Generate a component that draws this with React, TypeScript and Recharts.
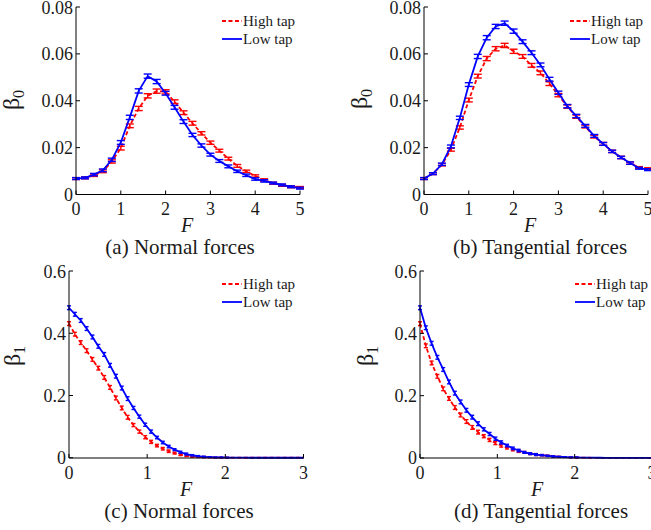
import React from "react";
import { LineChart, Line, XAxis, YAxis, ErrorBar } from "recharts";

// ---- force grid (top row: beta_0, bottom row: beta_1) ----
const F_TOP = [0, 0.2, 0.4, 0.6, 0.8, 1.0, 1.2, 1.4, 1.6, 1.8, 2.0, 2.2, 2.4, 2.6, 2.8, 3.0, 3.2, 3.4, 3.6, 3.8, 4.0, 4.2, 4.4, 4.6, 4.8, 5.0];
const F_BOTTOM = [0, 0.075, 0.15, 0.225, 0.3, 0.375, 0.45, 0.525, 0.6, 0.675, 0.75, 0.825, 0.9, 0.975, 1.05, 1.125, 1.2, 1.275, 1.35, 1.425, 1.5, 1.575, 1.65, 1.725, 1.8, 1.875, 1.95, 2.025, 2.1, 2.175, 2.25, 2.325, 2.4, 2.475, 2.55, 2.625, 2.7, 2.775, 2.85, 2.925, 3.0];

// (a) normal forces, beta_0
const A_HIGH = [0.0068, 0.0071, 0.0082, 0.0099, 0.0141, 0.0198, 0.0293, 0.0367, 0.0421, 0.0441, 0.0438, 0.0396, 0.0349, 0.0304, 0.0261, 0.0221, 0.0187, 0.0153, 0.0122, 0.0099, 0.0079, 0.0062, 0.0048, 0.0039, 0.0033, 0.003];
const A_HIGH_ERR = [0.0004, 0.0004, 0.0005, 0.0006, 0.0007, 0.0008, 0.0008, 0.0009, 0.0009, 0.0009, 0.0009, 0.0008, 0.0008, 0.0008, 0.0007, 0.0007, 0.0006, 0.0006, 0.0006, 0.0005, 0.0005, 0.0005, 0.0004, 0.0004, 0.0004, 0.0004];
const A_LOW = [0.0068, 0.0071, 0.0085, 0.0103, 0.0148, 0.0222, 0.0329, 0.0442, 0.0505, 0.0482, 0.0432, 0.0372, 0.0311, 0.0254, 0.0209, 0.017, 0.0143, 0.012, 0.0099, 0.0082, 0.0066, 0.0058, 0.0049, 0.0041, 0.0033, 0.0027];
const A_LOW_ERR = [0.0004, 0.0004, 0.0005, 0.0006, 0.0007, 0.0008, 0.0009, 0.0009, 0.0009, 0.0009, 0.0008, 0.0008, 0.0008, 0.0007, 0.0007, 0.0006, 0.0006, 0.0006, 0.0005, 0.0005, 0.0005, 0.0005, 0.0004, 0.0004, 0.0004, 0.0004];

// (b) tangential forces, beta_0
const B_HIGH = [0.0068, 0.0089, 0.0127, 0.0191, 0.0286, 0.0403, 0.0505, 0.058, 0.0622, 0.0636, 0.0611, 0.0589, 0.0551, 0.0519, 0.0473, 0.0424, 0.0375, 0.0332, 0.029, 0.0247, 0.0216, 0.0184, 0.0158, 0.0134, 0.0115, 0.011];
const B_HIGH_ERR = [0.0004, 0.0004, 0.0005, 0.0006, 0.0007, 0.0008, 0.0008, 0.0009, 0.0009, 0.0009, 0.0009, 0.0008, 0.0008, 0.0008, 0.0008, 0.0007, 0.0007, 0.0007, 0.0006, 0.0006, 0.0006, 0.0005, 0.0005, 0.0005, 0.0004, 0.0004];
const B_LOW = [0.0068, 0.0089, 0.0129, 0.0205, 0.0327, 0.0469, 0.0589, 0.0669, 0.0717, 0.0731, 0.0697, 0.0652, 0.0605, 0.0553, 0.0492, 0.0434, 0.0377, 0.0335, 0.0293, 0.025, 0.0216, 0.0184, 0.0158, 0.0134, 0.0112, 0.0106];
const B_LOW_ERR = [0.0004, 0.0004, 0.0005, 0.0006, 0.0007, 0.0008, 0.0009, 0.0009, 0.0009, 0.0009, 0.0009, 0.0008, 0.0008, 0.0008, 0.0008, 0.0007, 0.0007, 0.0007, 0.0006, 0.0006, 0.0006, 0.0005, 0.0005, 0.0005, 0.0004, 0.0004];

// (c) normal forces, beta_1
const C_HIGH = [0.431, 0.397, 0.37, 0.344, 0.316, 0.288, 0.258, 0.226, 0.192, 0.16, 0.13, 0.105, 0.084, 0.066, 0.051, 0.039, 0.029, 0.021, 0.015, 0.01, 0.007, 0.004, 0.003, 0.002, 0.001, 0.0006, 0.0003, 0.0002, 0.0001, 0.0001, 0, 0, 0, 0, 0, 0, 0, 0, 0, 0, 0];
const C_LOW = [0.482, 0.461, 0.441, 0.415, 0.388, 0.358, 0.332, 0.297, 0.262, 0.224, 0.19, 0.16, 0.132, 0.106, 0.084, 0.065, 0.049, 0.036, 0.026, 0.018, 0.012, 0.008, 0.005, 0.003, 0.002, 0.001, 0.001, 0.0005, 0.0003, 0.0002, 0.0001, 0, 0, 0, 0, 0, 0, 0, 0, 0, 0];

// (d) tangential forces, beta_1
const D_HIGH = [0.431, 0.36, 0.305, 0.262, 0.222, 0.191, 0.162, 0.138, 0.117, 0.098, 0.083, 0.07, 0.058, 0.048, 0.04, 0.033, 0.027, 0.022, 0.018, 0.014, 0.011, 0.009, 0.007, 0.005, 0.004, 0.003, 0.002, 0.0015, 0.001, 0.0008, 0.0006, 0.0005, 0.0004, 0.0003, 0.0002, 0.0002, 0.0001, 0.0001, 0.0001, 0.0001, 0];
const D_LOW = [0.482, 0.418, 0.368, 0.323, 0.284, 0.244, 0.208, 0.18, 0.153, 0.131, 0.11, 0.092, 0.077, 0.062, 0.05, 0.04, 0.031, 0.024, 0.018, 0.014, 0.011, 0.009, 0.007, 0.005, 0.004, 0.003, 0.002, 0.002, 0.001, 0.001, 0.001, 0.0008, 0.0006, 0.0005, 0.0004, 0.0003, 0.0002, 0.0002, 0.0001, 0.0001, 0.0001];

// small error bars on the beta_1 curves
const BOTTOM_ERR = [0.006, 0.006, 0.006, 0.006, 0.006, 0.006, 0.006, 0.006, 0.006, 0.006, 0.006, 0.005, 0.005, 0.005, 0.005, 0.004, 0.004, 0.004, 0.003, 0.003, 0.003, 0.002, 0.002, 0.002, 0.001, 0.001, 0.001, 0.001, 0, 0, 0, 0, 0, 0, 0, 0, 0, 0, 0, 0, 0];

const TOP_X_TICKS = [0, 1, 2, 3, 4, 5];
const TOP_Y_TICKS = [0, 0.02, 0.04, 0.06, 0.08];
const BOTTOM_X_TICKS = [0, 1, 2, 3];
const BOTTOM_Y_TICKS = [0, 0.2, 0.4, 0.6];

const RED = "#ff0000";
const BLUE = "#0000ff";
const INK = "#1a1a1a";
const SERIF = "Liberation Serif, Times New Roman, serif";

const buildRows = (f: number[], high: number[], highErr: number[], low: number[], lowErr: number[]) =>
  f.map((F, i) => ({ F, high: high[i], highErr: highErr[i], low: low[i], lowErr: lowErr[i] }));

type Box = { left: number; top: number; width: number; height: number };

interface PanelProps {
  data: any[];
  box: Box;
  xMax: number;
  xTicks: number[];
  yMax: number;
  yTicks: number[];
  digits: number;
  cap: number;
}

const AXIS_W = 60;
const AXIS_H = 34;
const PAD = 10;

function Panel({ data, box, xMax, xTicks, yMax, yTicks, digits, cap }: PanelProps) {
  const tickStyle = { fill: INK, fontSize: 18, fontFamily: SERIF };
  const fmt = (v: number) => (v === 0 ? "0" : v.toFixed(digits));
  return (
    <div style={{ position: "absolute", left: box.left - AXIS_W, top: box.top - PAD }}>
      <LineChart
        width={AXIS_W + box.width + PAD}
        height={PAD + box.height + AXIS_H}
        data={data}
        margin={{ top: PAD, right: PAD, bottom: 0, left: 0 }}
      >
        <XAxis xAxisId="b" dataKey="F" type="number" domain={[0, xMax]} ticks={xTicks}
          height={AXIS_H} tickSize={-4} tickMargin={12} tick={tickStyle}
          stroke="#000" axisLine={{ stroke: "#000" }} tickLine={{ stroke: "#000" }} />
        <XAxis xAxisId="t" orientation="top" dataKey="F" type="number" domain={[0, xMax]} ticks={xTicks}
          height={0} tickSize={-4} tick={false} axisLine={{ stroke: "#000" }} tickLine={{ stroke: "#000" }} />
        <YAxis yAxisId="l" type="number" domain={[0, yMax]} ticks={yTicks} width={AXIS_W}
          tickSize={-4} tickMargin={7} tick={tickStyle} tickFormatter={fmt}
          axisLine={{ stroke: "#000" }} tickLine={{ stroke: "#000" }} />
        <YAxis yAxisId="r" orientation="right" type="number" domain={[0, yMax]} ticks={yTicks} width={0}
          tickSize={-4} tick={false} axisLine={{ stroke: "#000" }} tickLine={{ stroke: "#000" }} />
        <Line xAxisId="b" yAxisId="l" type="linear" dataKey="high" stroke={RED} strokeWidth={1.8}
          strokeDasharray="4 2.5" dot={false} isAnimationActive={false}>
          <ErrorBar dataKey="highErr" direction="y" width={cap} stroke={RED} strokeWidth={1.4} isAnimationActive={false} />
        </Line>
        <Line xAxisId="b" yAxisId="l" type="linear" dataKey="low" stroke={BLUE} strokeWidth={1.8}
          dot={false} isAnimationActive={false}>
          <ErrorBar dataKey="lowErr" direction="y" width={cap} stroke={BLUE} strokeWidth={1.4} isAnimationActive={false} />
        </Line>
      </LineChart>
    </div>
  );
}

function KeyBox({ x, y }: { x: number; y: number }) {
  const text = { fontFamily: SERIF, fontSize: 15, fill: INK };
  return (
    <svg style={{ position: "absolute", left: x, top: y - 10, overflow: "visible" }} width={80} height={40}>
      <line x1={0} y1={10} x2={20} y2={10} stroke={RED} strokeWidth={1.8} strokeDasharray="4 2.5" />
      <text x={21} y={10} dominantBaseline="central" style={text}>High tap</text>
      <line x1={0} y1={28} x2={20} y2={28} stroke={BLUE} strokeWidth={1.8} />
      <text x={21} y={28} dominantBaseline="central" style={text}>Low tap</text>
    </svg>
  );
}

const centered = (x: number, y: number, extra: React.CSSProperties = {}): React.CSSProperties => ({
  position: "absolute",
  left: x,
  top: y,
  transform: "translate(-50%, -50%)",
  whiteSpace: "nowrap",
  fontFamily: SERIF,
  color: INK,
  lineHeight: 1,
  ...extra,
});

function YLabel({ x, y, sub }: { x: number; y: number; sub: string }) {
  return (
    <div style={centered(x, y, { transform: "translate(-50%, -50%) rotate(-90deg)", fontSize: 24 })}>
      β<span style={{ fontSize: 16, verticalAlign: "-0.3em" }}>{sub}</span>
    </div>
  );
}

export default function App() {
  const aRows = buildRows(F_TOP, A_HIGH, A_HIGH_ERR, A_LOW, A_LOW_ERR);
  const bRows = buildRows(F_TOP, B_HIGH, B_HIGH_ERR, B_LOW, B_LOW_ERR);
  const cRows = buildRows(F_BOTTOM, C_HIGH, BOTTOM_ERR, C_LOW, BOTTOM_ERR);
  const dRows = buildRows(F_BOTTOM, D_HIGH, BOTTOM_ERR, D_LOW, BOTTOM_ERR);

  return (
    <div style={{ position: "absolute", left: 0, top: 0, width: 651, height: 530, background: "#fff", overflow: "hidden" }}>
      <Panel data={aRows} box={{ left: 76, top: 7, width: 224, height: 187.5 }} xMax={5} xTicks={TOP_X_TICKS}
        yMax={0.08} yTicks={TOP_Y_TICKS} digits={2} cap={4} />
      <Panel data={bRows} box={{ left: 424, top: 7, width: 224, height: 187.5 }} xMax={5} xTicks={TOP_X_TICKS}
        yMax={0.08} yTicks={TOP_Y_TICKS} digits={2} cap={4} />
      <Panel data={cRows} box={{ left: 68.5, top: 270.7, width: 234.5, height: 187 }} xMax={3} xTicks={BOTTOM_X_TICKS}
        yMax={0.6} yTicks={BOTTOM_Y_TICKS} digits={1} cap={2} />
      <Panel data={dRows} box={{ left: 419.5, top: 270.7, width: 232, height: 187 }} xMax={3} xTicks={BOTTOM_X_TICKS}
        yMax={0.6} yTicks={BOTTOM_Y_TICKS} digits={1} cap={2} />

      <KeyBox x={221.5} y={20.5} />
      <KeyBox x={570} y={20.5} />
      <KeyBox x={222} y={284} />
      <KeyBox x={575} y={284} />

      <YLabel x={13} y={100} sub="0" />
      <YLabel x={361} y={99} sub="0" />
      <YLabel x={14} y={356} sub="1" />
      <YLabel x={367} y={356} sub="1" />

      <div style={centered(187, 225, { fontSize: 20, fontStyle: "italic" })}>F</div>
      <div style={centered(530, 225, { fontSize: 20, fontStyle: "italic" })}>F</div>
      <div style={centered(186, 489, { fontSize: 20, fontStyle: "italic" })}>F</div>
      <div style={centered(537, 489, { fontSize: 20, fontStyle: "italic" })}>F</div>

      <div style={centered(180, 247, { fontSize: 21 })}>(a) Normal forces</div>
      <div style={centered(540, 247, { fontSize: 21 })}>(b) Tangential forces</div>
      <div style={centered(179, 511, { fontSize: 21 })}>(c) Normal forces</div>
      <div style={centered(541, 511, { fontSize: 21 })}>(d) Tangential forces</div>
    </div>
  );
}
